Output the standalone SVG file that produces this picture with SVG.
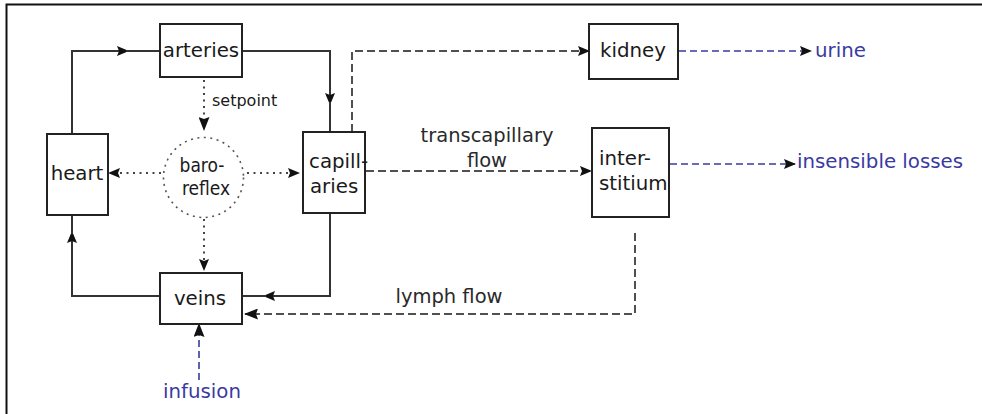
<svg xmlns="http://www.w3.org/2000/svg" width="982" height="414" viewBox="0 0 982 414">
  <style>
    .box { fill: #fff; stroke: #222; stroke-width: 2; }
    .lbl { font-family: "DejaVu Sans", sans-serif; font-size: 19.8px; fill: #1a1a1a; }
    .cond { font-family: "DejaVu Sans Condensed", "DejaVu Sans", sans-serif; font-size: 19px; fill: #1a1a1a; }
    .sm { font-family: "DejaVu Sans", sans-serif; font-size: 16px; fill: #1a1a1a; }
    .note { font-family: "DejaVu Sans", sans-serif; font-size: 19.5px; fill: #2a2a2a; }
    .blue { font-family: "DejaVu Sans", sans-serif; font-size: 19.8px; fill: #3a3aa0; }
    .solid { fill: none; stroke: #333; stroke-width: 2; }
    .dash { fill: none; stroke: #505050; stroke-width: 2; stroke-dasharray: 8 4; }
    .bdash { fill: none; stroke: #3a3aa0; stroke-width: 1.6; stroke-dasharray: 7 4; }
    .dot { fill: none; stroke: #444; stroke-width: 2; stroke-dasharray: 2 4.5; }
  </style>
  <defs>
    <marker id="arr" viewBox="0 0 12 10" refX="11" refY="5" markerWidth="12" markerHeight="10" markerUnits="userSpaceOnUse" orient="auto">
      <path d="M0,0 L12,5 L0,10 L2,5 z" fill="#111"/>
    </marker>
    <marker id="arrBig" viewBox="0 0 14 11" refX="13" refY="5.5" markerWidth="14" markerHeight="11" markerUnits="userSpaceOnUse" orient="auto">
      <path d="M0,0 L14,5.5 L0,11 L2,5.5 z" fill="#111"/>
    </marker>
  </defs>

  <rect width="982" height="414" fill="#fff"/>
  <!-- frame -->
  <path d="M6.5,414 V4.5 H982" fill="none" stroke="#111" stroke-width="2"/>

  <g id="connectors">
    <!-- circulation loop -->
    <path class="solid" d="M72,134 V51 H128" marker-end="url(#arr)"/>
    <path class="solid" d="M126,51 H160"/>
    <path class="solid" d="M242,51 H330 V104" marker-end="url(#arr)"/>
    <path class="solid" d="M330,102 V132"/>
    <path class="solid" d="M330,213 V296 H264" marker-end="url(#arr)"/>
    <path class="solid" d="M266,296 H242"/>
    <path class="solid" d="M160,296 H72 V232" marker-end="url(#arr)"/>
    <path class="solid" d="M72,234 V215"/>
    <!-- baroreflex control -->
    <path class="dot" d="M204,80 V130" marker-end="url(#arrBig)"/>
    <path class="dot" d="M161,173 H109" marker-end="url(#arr)"/>
    <path class="dot" d="M247,173 H299" marker-end="url(#arr)"/>
    <path class="dot" d="M204,219 V270" marker-end="url(#arr)"/>
    <!-- fluid exchange -->
    <path class="dash" d="M352,132 V51 H589" marker-end="url(#arr)"/>
    <path class="dash" d="M366,171 H591" marker-end="url(#arr)"/>
    <path class="dash" d="M635,233 V314 H245" marker-end="url(#arrBig)"/>
    <!-- inputs and outputs -->
    <path class="bdash" d="M679,51 H811" marker-end="url(#arr)"/>
    <path class="bdash" d="M670,164 H795" marker-end="url(#arr)"/>
    <path class="bdash" d="M199,380 V324" marker-end="url(#arrBig)"/>
  </g>

  <g id="arteries">
    <rect class="box" x="160" y="24" width="82" height="53"/>
    <text class="lbl" x="201" y="57" text-anchor="middle">arteries</text>
  </g>
  <g id="heart">
    <rect class="box" x="47" y="134" width="61" height="81"/>
    <text class="lbl" x="77" y="180" text-anchor="middle">heart</text>
  </g>
  <g id="capillaries">
    <rect class="box" x="303" y="132" width="62" height="81"/>
    <text class="lbl" x="309" y="168">capill-</text>
    <text class="lbl" x="310" y="193">aries</text>
  </g>
  <g id="baroreflex">
    <circle cx="203.5" cy="177.5" r="40" fill="#fff" stroke="#555" stroke-width="1.6" stroke-dasharray="2 4.5"/>
    <text class="cond" x="202" y="172" text-anchor="middle">baro-</text>
    <text class="cond" x="206" y="195" text-anchor="middle">reflex</text>
  </g>
  <text class="sm" x="212" y="106">setpoint</text>
  <g id="veins">
    <rect class="box" x="160" y="273" width="82" height="51"/>
    <text class="lbl" x="200" y="305" text-anchor="middle">veins</text>
  </g>
  <g id="kidney">
    <rect class="box" x="589" y="24" width="89" height="55"/>
    <text class="lbl" x="633" y="57" text-anchor="middle">kidney</text>
  </g>
  <g id="interstitium">
    <rect class="box" x="592" y="128" width="77" height="89"/>
    <text class="lbl" x="599" y="165">inter-</text>
    <text class="lbl" x="599" y="190">stitium</text>
  </g>

  <text class="note" x="487" y="142" text-anchor="middle">transcapillary</text>
  <text class="note" x="487" y="167" text-anchor="middle">flow</text>
  <text class="note" x="449" y="303" text-anchor="middle">lymph flow</text>

  <text class="blue" x="815" y="57">urine</text>
  <text class="blue" x="797" y="168">insensible losses</text>
  <text class="blue" x="202" y="398" text-anchor="middle">infusion</text>
</svg>
